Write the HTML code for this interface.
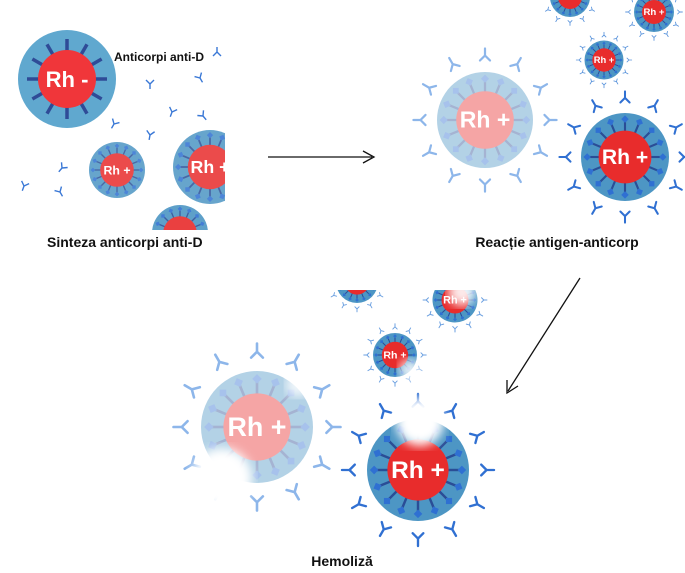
<!DOCTYPE html>
<html><head><meta charset="utf-8"><style>
html,body{margin:0;padding:0;background:#fff;}
svg{display:block;}
text{font-family:"Liberation Sans",sans-serif;font-weight:bold;}
</style></head><body>
<svg width="685" height="573" viewBox="0 0 685 573" xmlns="http://www.w3.org/2000/svg">
<defs>
<g id="sp"><line x1="0" y1="-29" x2="0" y2="-41" stroke="#2a4d96" stroke-width="2.4"/><rect x="-3" y="-46" width="6" height="6" transform="rotate(45 0 -43)" fill="#2f70d2"/></g>
<g id="cell">
<circle r="50" fill="#4d96c4"/>
<use href="#sp"/><use href="#sp" transform="rotate(22.5)"/><use href="#sp" transform="rotate(45)"/><use href="#sp" transform="rotate(67.5)"/>
<use href="#sp" transform="rotate(90)"/><use href="#sp" transform="rotate(112.5)"/><use href="#sp" transform="rotate(135)"/><use href="#sp" transform="rotate(157.5)"/>
<use href="#sp" transform="rotate(180)"/><use href="#sp" transform="rotate(202.5)"/><use href="#sp" transform="rotate(225)"/><use href="#sp" transform="rotate(247.5)"/>
<use href="#sp" transform="rotate(270)"/><use href="#sp" transform="rotate(292.5)"/><use href="#sp" transform="rotate(315)"/><use href="#sp" transform="rotate(337.5)"/>
<circle r="30" fill="#e82c2c"/>
</g>
<path id="y" d="M0,-64 V-71 M0,-64 L-5,-59 M0,-64 L5,-59" fill="none" stroke-width="2.2" stroke-linecap="round"/>
<g id="ring">
<use href="#y"/><use href="#y" transform="rotate(30)"/><use href="#y" transform="rotate(60)"/><use href="#y" transform="rotate(90)"/>
<use href="#y" transform="rotate(120)"/><use href="#y" transform="rotate(150)"/><use href="#y" transform="rotate(180)"/><use href="#y" transform="rotate(210)"/>
<use href="#y" transform="rotate(240)"/><use href="#y" transform="rotate(270)"/><use href="#y" transform="rotate(300)"/><use href="#y" transform="rotate(330)"/>
</g>
<path id="fy" d="M0,0 V5 M0,0 L-4,-4 M0,0 L4,-4" fill="none" stroke="#3a78d6" stroke-width="1.4"/>
<g id="rsp"><line x1="0" y1="-27" x2="0" y2="-40" stroke="#2f4b97" stroke-width="3.5"/></g>
<clipPath id="cl1"><rect x="0" y="0" width="225" height="230"/></clipPath>
<clipPath id="cl3"><rect x="170" y="290" width="340" height="262"/></clipPath>
<filter id="bl"><feGaussianBlur stdDeviation="5"/></filter>
</defs>

<!-- LEFT PANEL -->
<g clip-path="url(#cl1)">
<g transform="translate(67,79)">
<circle r="49" fill="#60a8cf"/>
<use href="#rsp"/><use href="#rsp" transform="rotate(30)"/><use href="#rsp" transform="rotate(60)"/><use href="#rsp" transform="rotate(90)"/><use href="#rsp" transform="rotate(120)"/><use href="#rsp" transform="rotate(150)"/><use href="#rsp" transform="rotate(180)"/><use href="#rsp" transform="rotate(210)"/><use href="#rsp" transform="rotate(240)"/><use href="#rsp" transform="rotate(270)"/><use href="#rsp" transform="rotate(300)"/><use href="#rsp" transform="rotate(330)"/>
<circle r="29" fill="#f0363a"/>
<text x="0" y="8" font-size="22" fill="#fff" text-anchor="middle">Rh -</text>
</g>
<g transform="translate(117,170) scale(0.56)"><use href="#cell" opacity="0.85"/><text x="0" y="8" font-size="22" fill="#fff" text-anchor="middle">Rh +</text></g>
<g transform="translate(210,167) scale(0.74)"><use href="#cell" opacity="0.85"/><text x="0" y="8" font-size="24" fill="#fff" text-anchor="middle">Rh +</text></g>
<g transform="translate(180,233) scale(0.56)"><use href="#cell" opacity="0.9"/></g>
<use href="#fy" transform="translate(150,84)"/><use href="#fy" transform="translate(200,78) rotate(-30)"/>
<use href="#fy" transform="translate(172,112) rotate(20)"/><use href="#fy" transform="translate(203,116) rotate(-40)"/>
<use href="#fy" transform="translate(114,124) rotate(30)"/><use href="#fy" transform="translate(150,135) rotate(10)"/>
<use href="#fy" transform="translate(62,168) rotate(40)"/><use href="#fy" transform="translate(24,186) rotate(20)"/>
<use href="#fy" transform="translate(60,192) rotate(-30)"/><use href="#fy" transform="translate(217,52) rotate(180)"/>
</g>
<text x="114" y="61" font-size="12" fill="#111">Anticorpi anti-D</text>
<text x="47" y="247" font-size="14" fill="#111">Sinteza anticorpi anti-D</text>

<!-- arrow 1 -->
<line x1="268" y1="157" x2="372" y2="157" stroke="#111" stroke-width="1.3"/>
<path d="M363,151 L374,157 L363,163" fill="none" stroke="#111" stroke-width="1.3"/>

<!-- RIGHT PANEL -->
<g transform="translate(570,-3) scale(0.4)"><use href="#ring" stroke="#5c95dc"/><use href="#cell"/></g>
<g transform="translate(654,12) scale(0.4)"><use href="#ring" stroke="#5c95dc"/><use href="#cell"/><text x="0" y="8" font-size="24" fill="#fff" text-anchor="middle">Rh +</text></g>
<g transform="translate(604,60) scale(0.39)"><use href="#ring" stroke="#5c95dc"/><use href="#cell"/><text x="0" y="8" font-size="24" fill="#fff" text-anchor="middle">Rh +</text></g>
<g transform="translate(485,120) scale(0.96)"><use href="#ring" stroke="#8db6ea" transform="scale(1.05)"/><use href="#cell" opacity="0.42"/><text x="0" y="8" font-size="24" fill="#fff" text-anchor="middle">Rh +</text></g>
<g transform="translate(625,157) scale(0.88)"><use href="#ring" stroke="#3070d2" transform="scale(1.05)"/><use href="#cell"/><text x="0" y="8" font-size="24" fill="#fff" text-anchor="middle">Rh +</text></g>
<text x="557" y="247" font-size="14" fill="#111" text-anchor="middle">Reacție antigen-anticorp</text>

<!-- arrow 2 -->
<line x1="580" y1="278" x2="508" y2="391" stroke="#111" stroke-width="1.3"/>
<path d="M507,380 L507,393 L518,386" fill="none" stroke="#111" stroke-width="1.3"/>

<!-- BOTTOM PANEL -->
<g clip-path="url(#cl3)">
<g transform="translate(357,282) scale(0.42)"><use href="#ring" stroke="#6a9fe0"/><use href="#cell"/></g>
<g transform="translate(455,300) scale(0.45)"><use href="#ring" stroke="#6a9fe0"/><use href="#cell"/><text x="0" y="8" font-size="24" fill="#fff" text-anchor="middle">Rh +</text></g>
<circle cx="462" cy="292" r="14" fill="#fff" filter="url(#bl)" opacity="0.9"/>
<g transform="translate(395,355) scale(0.44)"><use href="#ring" stroke="#6a9fe0"/><use href="#cell"/><text x="0" y="8" font-size="24" fill="#fff" text-anchor="middle">Rh +</text></g>
<circle cx="410" cy="370" r="11" fill="#fff" filter="url(#bl)" opacity="0.85"/>
<g transform="translate(257,427) scale(1.12)"><use href="#ring" stroke="#8db6ea" transform="scale(1.05)"/><use href="#cell" opacity="0.42"/><text x="0" y="8" font-size="24" fill="#fff" text-anchor="middle">Rh +</text></g>
<circle cx="222" cy="478" r="30" fill="#fff" filter="url(#bl)"/>
<circle cx="298" cy="385" r="12" fill="#fff" filter="url(#bl)" opacity="0.8"/>
<g transform="translate(418,470) scale(1.02)"><use href="#ring" stroke="#3070d2" transform="scale(1.05)"/><use href="#cell"/><text x="0" y="8" font-size="24" fill="#fff" text-anchor="middle">Rh +</text></g>
<circle cx="420" cy="422" r="24" fill="#fff" filter="url(#bl)"/>
</g>
<text x="342" y="566" font-size="14" fill="#111" text-anchor="middle">Hemoliză</text>
</svg>
</body></html>
